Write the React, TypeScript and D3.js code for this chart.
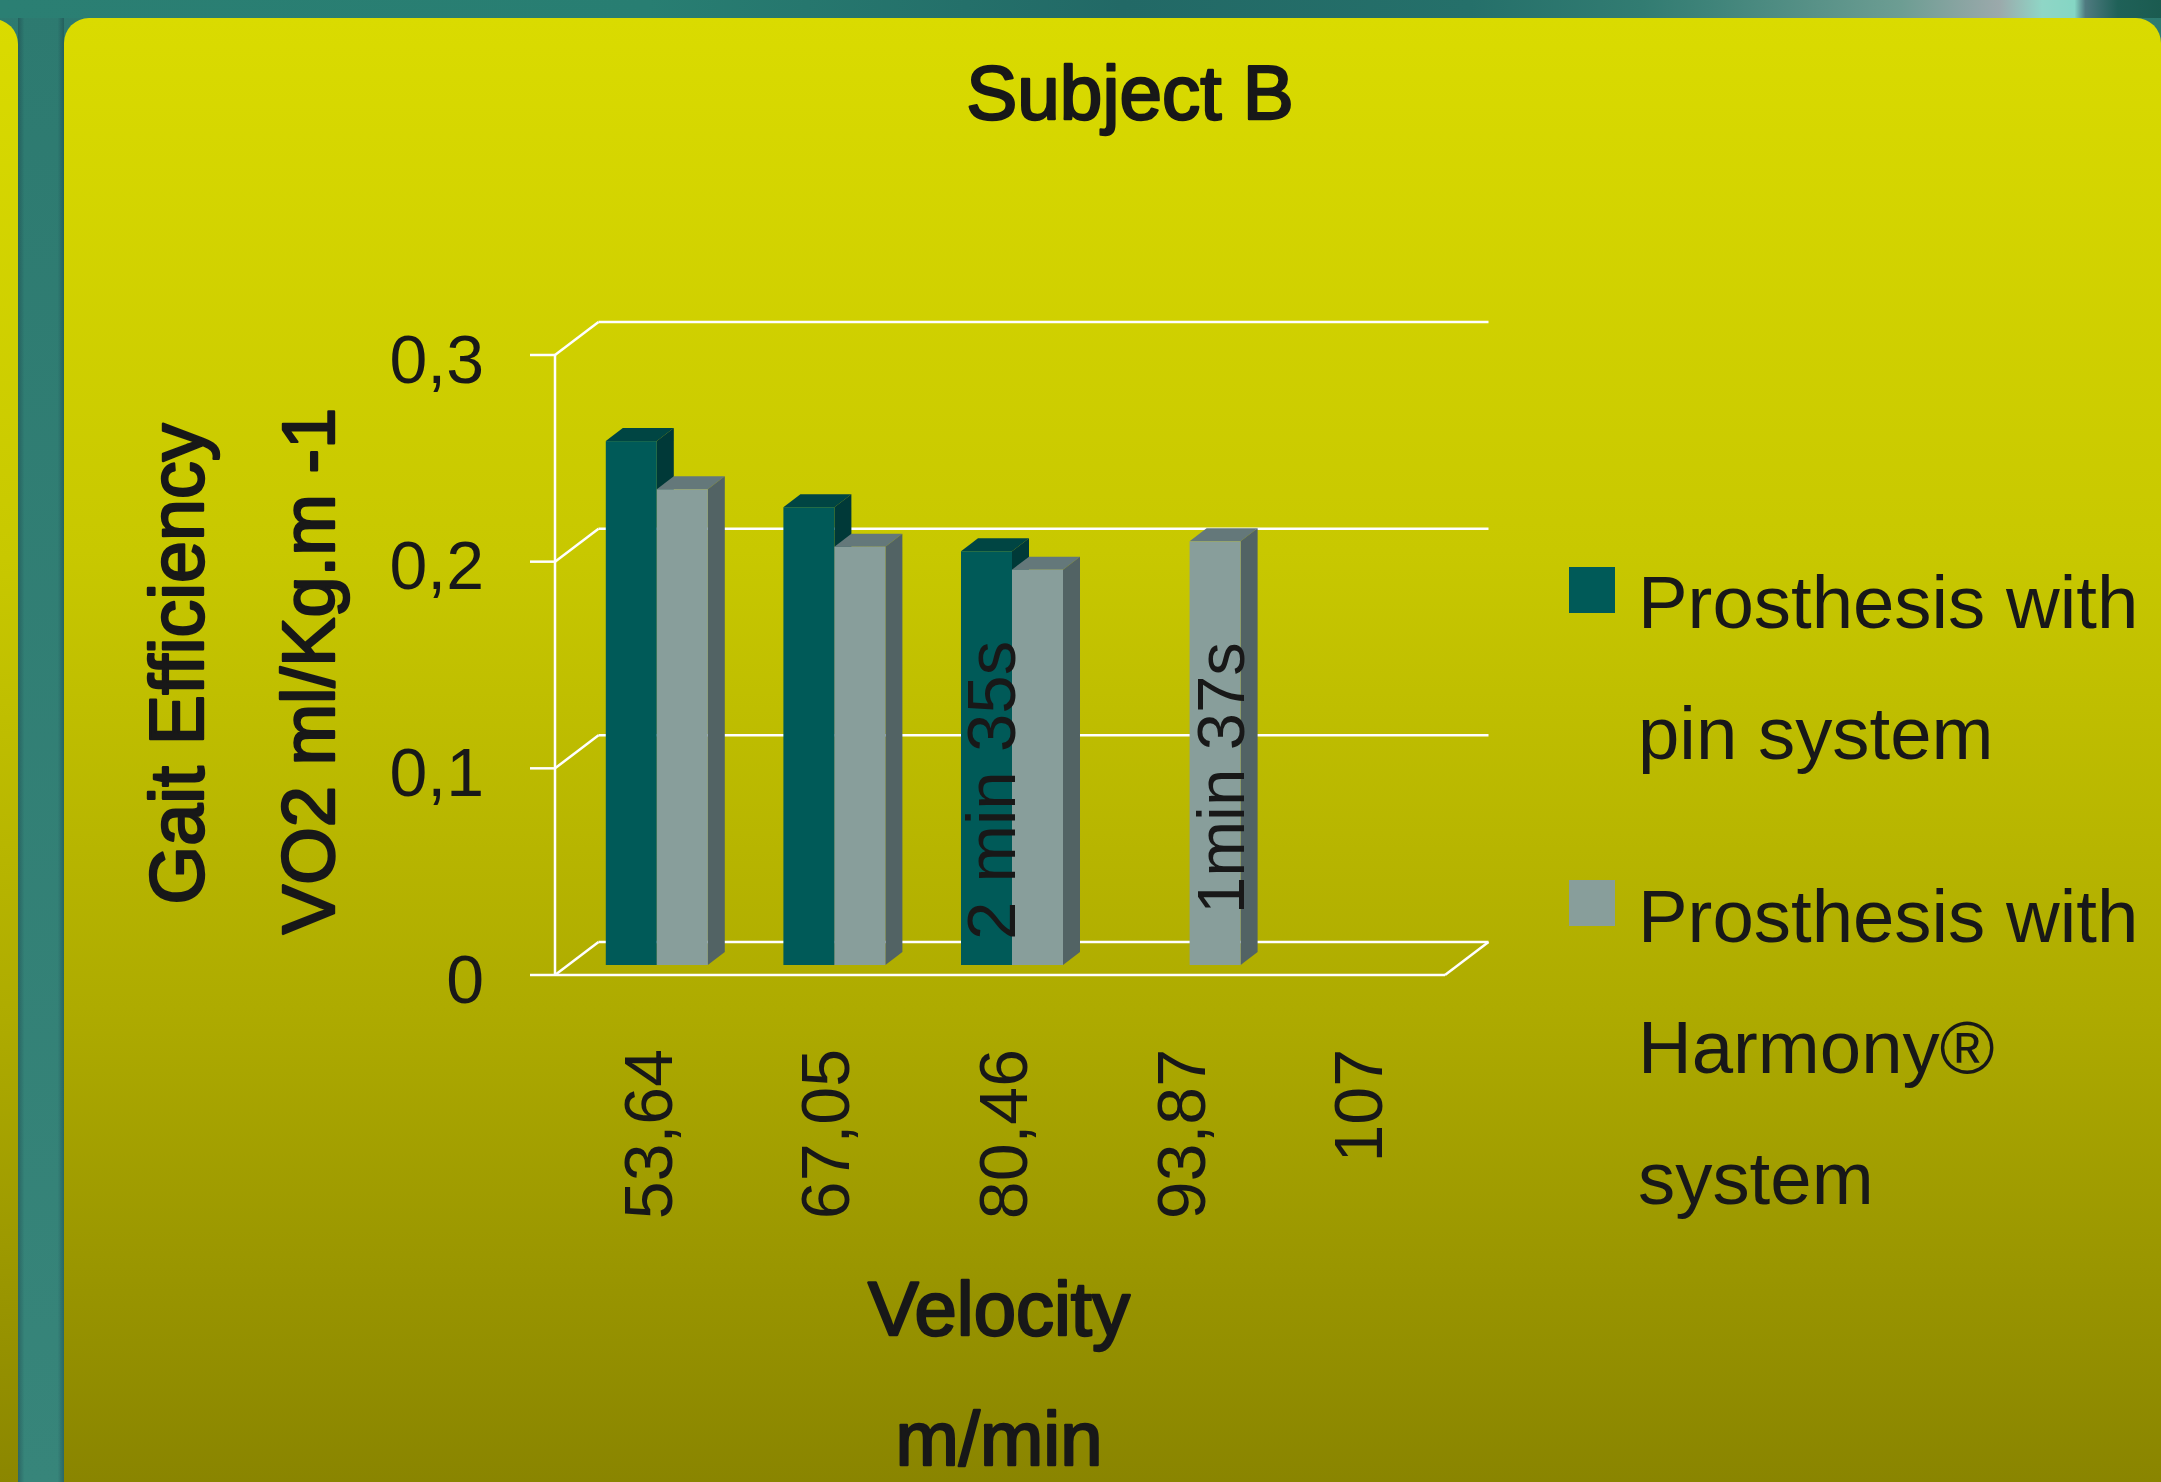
import React from "react";
import * as d3 from "d3";

const categories = ["53,64", "67,05", "80,46", "93,87", "107"];
const pinSystem: (number | null)[] = [0.2535, 0.2215, 0.2002, null, null];
const harmony: (number | null)[] = [0.2302, 0.2024, 0.1913, 0.205, null];
const yTicks = [0, 0.1, 0.2, 0.3];
const yTickLabels = ["0", "0,1", "0,2", "0,3"];
const legendPin = ["Prosthesis with", "pin system"];
const legendHarmony = ["Prosthesis with", "Harmony®", "system"];
const notes = [
  { text: "2 min 35s", category: "80,46" },
  { text: "1min 37s", category: "93,87" },
];

const W = 2161, H = 1482;
const FONT = "'Liberation Sans', Arial, sans-serif";
const INK = "#181818";
const front = { l: 555, r: 1445, base: 975, top: 355 };
const wall = { dx: 43.5, dy: -33 };
const plane = { dx: 13, dy: -10 };
const depth = { dx: 17, dy: -13 };

const series = [
  { name: "pin", values: pinSystem, face: "#005a58", top: "#004543", side: "#003938" },
  { name: "harmony", values: harmony, face: "#889e9b", top: "#64787a", side: "#526364" },
];

const heavy = { fill: INK, stroke: INK, strokeWidth: 2.4, strokeLinejoin: "round" as const };

export default function App() {
  const y = d3.scaleLinear().domain([0, 0.3]).range([front.base, front.top]);
  const x0 = d3.scaleBand<string>().domain(categories).range([front.l, front.l + 888]).paddingInner(0.4257).paddingOuter(0.2128);
  const x1 = d3.scaleBand<string>().domain(series.map((s) => s.name)).range([0, x0.bandwidth()]);
  const line = d3.line();
  const poly = (p: [number, number][]) => line(p) + "Z";
  const backX = front.l + wall.dx;
  const backR = front.r + wall.dx;

  return (
    <svg width={W} height={H} viewBox={`0 0 ${W} ${H}`} style={{ position: "absolute", left: 0, top: 0, display: "block" }} fontFamily={FONT}>
      <defs>
        <linearGradient id="strip" x1="0" x2="1" y1="0" y2="0">
          <stop offset="0" stopColor="#2b7f73" />
          <stop offset="0.3" stopColor="#287e72" />
          <stop offset="0.52" stopColor="#226966" />
          <stop offset="0.68" stopColor="#25706a" />
          <stop offset="0.76" stopColor="#327c72" />
          <stop offset="0.79" stopColor="#3e8379" />
          <stop offset="0.88" stopColor="#6d9d93" />
          <stop offset="0.925" stopColor="#9ba9ab" />
          <stop offset="0.945" stopColor="#8fd6c6" />
          <stop offset="0.96" stopColor="#85d6c4" />
          <stop offset="0.965" stopColor="#4f7a80" />
          <stop offset="0.98" stopColor="#1f6158" />
          <stop offset="1" stopColor="#1b5b50" />
        </linearGradient>
        <linearGradient id="gutter" x1="0" x2="0" y1="0" y2="1">
          <stop offset="0" stopColor="#2d7a70" />
          <stop offset="1" stopColor="#37857a" />
        </linearGradient>
        <linearGradient id="gutterShade" x1="0" x2="1" y1="0" y2="0">
          <stop offset="0" stopColor="#123" stopOpacity="0.3" />
          <stop offset="0.14" stopColor="#123" stopOpacity="0" />
          <stop offset="0.86" stopColor="#123" stopOpacity="0" />
          <stop offset="1" stopColor="#123" stopOpacity="0.3" />
        </linearGradient>
        <linearGradient id="panel" x1="0" x2="0" y1="0" y2="1">
          <stop offset="0" stopColor="#dadb00" />
          <stop offset="0.35" stopColor="#c8c800" />
          <stop offset="0.65" stopColor="#aeab00" />
          <stop offset="1" stopColor="#858000" />
        </linearGradient>
      </defs>

      <rect x={0} y={0} width={W} height={H} fill="url(#gutter)" />
      <rect x={18} y={0} width={46} height={H} fill="url(#gutterShade)" />
      <rect x={0} y={0} width={W} height={18} fill="url(#strip)" />
      <rect x={-60} y={19} width={78} height={H + 60} rx={25} fill="url(#panel)" />
      <rect x={64} y={18} width={W - 64} height={H + 40} rx={25} fill="url(#panel)" />

      <text x={1130} y={119} textAnchor="middle" fontSize={76.5} {...heavy}>Subject B</text>

      {/* walls and floor */}
      <g stroke="#fff" strokeWidth={2.5} fill="none">
        {yTicks.map((t) => (
          <g key={t}>
            <line x1={530} x2={front.l} y1={y(t)} y2={y(t)} />
            <line x1={front.l} y1={y(t)} x2={backX} y2={y(t) + wall.dy} />
            <line x1={backX} x2={backR} y1={y(t) + wall.dy} y2={y(t) + wall.dy} />
          </g>
        ))}
        <line x1={front.l} x2={front.l} y1={y(0)} y2={y(0.3)} />
        <line x1={front.l} x2={front.r} y1={y(0)} y2={y(0)} />
        <line x1={front.r} y1={y(0)} x2={backR} y2={y(0) + wall.dy} />
      </g>

      {/* bars */}
      {categories.map((c, i) =>
        series.map((s) => {
          const v = s.values[i];
          if (v == null) return null;
          const l = (x0(c) as number) + (x1(s.name) as number) + plane.dx;
          const r = l + x1.bandwidth();
          const t = y(v) + plane.dy;
          const b = y(0) + plane.dy;
          return (
            <g key={c + s.name}>
              <path d={poly([[l, t], [r, t], [r + depth.dx, t + depth.dy], [l + depth.dx, t + depth.dy]])} fill={s.top} />
              <path d={poly([[r, t], [r + depth.dx, t + depth.dy], [r + depth.dx, b + depth.dy], [r, b]])} fill={s.side} />
              <rect x={l} y={t} width={r - l} height={b - t} fill={s.face} />
            </g>
          );
        })
      )}

      {/* y tick labels */}
      {yTicks.map((t, i) => (
        <text key={t} x={484} y={y(t) + 27.5} textAnchor="end" fontSize={68} fill={INK}>{yTickLabels[i]}</text>
      ))}

      {/* x tick labels */}
      {categories.map((c) => (
        <text key={c} transform={`translate(${(x0(c) as number) + x0.bandwidth() / 2 + 28},1049) rotate(-90)`} textAnchor="end" fontSize={68} fill={INK}>{c}</text>
      ))}

      {/* notes in the bars */}
      {notes.map((n, i) => (
        <text key={n.text} transform={`translate(${(x0(n.category) as number) + (i === 0 ? 67 : 118)},${i === 0 ? 940 : 914}) rotate(-90)`} fontSize={i === 0 ? 69 : 67} fill={INK}>{n.text}</text>
      ))}

      {/* axis titles */}
      <text transform="translate(202.5,664) rotate(-90)" textAnchor="middle" fontSize={75.5} {...heavy}>Gait Efficiency</text>
      <text transform="translate(334,671) rotate(-90)" textAnchor="middle" fontSize={74} {...heavy}>VO2 ml/Kg.m -1</text>
      <text x={999} y={1335} textAnchor="middle" fontSize={76} {...heavy}>Velocity</text>
      <text x={999} y={1465} textAnchor="middle" fontSize={76} {...heavy}>m/min</text>

      {/* legend */}
      <rect x={1569} y={567} width={46} height={46} fill={series[0].face} />
      <rect x={1569} y={880} width={46} height={46} fill={series[1].face} />
      {legendPin.map((t, i) => (
        <text key={t} x={1638} y={628 + i * 131} fontSize={74.4} fill={INK}>{t}</text>
      ))}
      {legendHarmony.map((t, i) => (
        <text key={t} x={1638} y={942 + i * 131} fontSize={74.4} fill={INK}>{t}</text>
      ))}
    </svg>
  );
}
